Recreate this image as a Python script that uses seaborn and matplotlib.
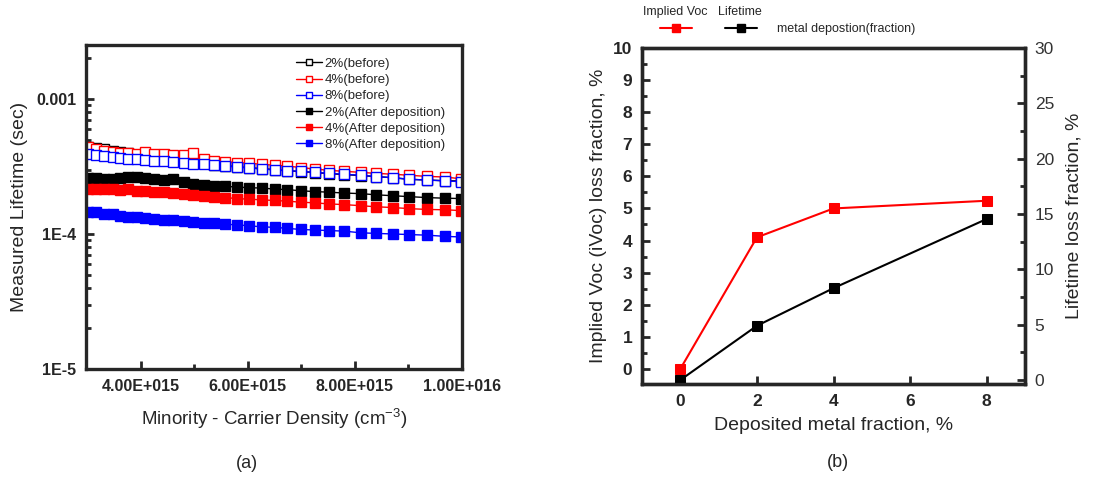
import numpy as np
import seaborn as sns
import matplotlib.pyplot as plt
from matplotlib.lines import Line2D
from matplotlib.ticker import FixedLocator, FixedFormatter, LogLocator, NullFormatter, MultipleLocator

#=============================== data
# panel (a): carrier density, cm^-3
density = np.array([3.02, 3.17, 3.32, 3.48, 3.62, 3.77, 3.93, 4.08, 4.25, 4.43, 4.61, 4.80,
                    4.98, 5.19, 5.37, 5.57, 5.79, 6.02, 6.26, 6.50, 6.74, 6.99, 7.25, 7.52,
                    7.80, 8.11, 8.40, 8.71, 9.02, 9.35, 9.69, 9.99]) * 1e15

# lifetimes in units of 1e-4 s
before_2 = [4.44, 4.34, 4.24, 4.14, 4.05, 3.96, 3.87, 3.78, 3.70, 3.61, 3.53, 3.45,
            3.40, 3.34, 3.26, 3.21, 3.15, 3.10, 3.05, 3.00, 2.94, 2.90, 2.85, 2.80,
            2.75, 2.71, 2.66, 2.61, 2.54, 2.51, 2.48, 2.47]
before_4 = [4.44, 4.26, 4.14, 4.07, 4.00, 3.96, 3.94, 4.03, 3.94, 3.89, 3.83, 3.87,
            3.96, 3.57, 3.47, 3.43, 3.38, 3.34, 3.28, 3.23, 3.19, 3.10, 3.03, 2.96,
            2.91, 2.86, 2.81, 2.77, 2.72, 2.67, 2.64, 2.56]
before_8 = [3.91, 3.85, 3.80, 3.74, 3.68, 3.61, 3.57, 3.53, 3.49, 3.45, 3.40, 3.36,
            3.32, 3.28, 3.23, 3.19, 3.14, 3.08, 3.03, 2.98, 2.94, 2.91, 2.86, 2.81,
            2.77, 2.72, 2.66, 2.61, 2.54, 2.51, 2.47, 2.44]
after_2 = [2.61, 2.58, 2.57, 2.56, 2.58, 2.63, 2.66, 2.58, 2.54, 2.53, 2.54, 2.43,
           2.35, 2.31, 2.28, 2.25, 2.23, 2.20, 2.19, 2.15, 2.13, 2.09, 2.06, 2.04,
           2.01, 1.99, 1.95, 1.92, 1.89, 1.86, 1.84, 1.83]
after_4 = [2.15, 2.17, 2.15, 2.14, 2.13, 2.14, 2.08, 2.09, 2.06, 2.04, 2.01, 1.97,
           1.93, 1.90, 1.88, 1.86, 1.83, 1.81, 1.79, 1.77, 1.75, 1.72, 1.70, 1.67,
           1.65, 1.62, 1.59, 1.57, 1.54, 1.52, 1.51, 1.49]
after_8 = [1.45, 1.45, 1.41, 1.41, 1.37, 1.34, 1.34, 1.31, 1.30, 1.28, 1.26, 1.25,
           1.23, 1.21, 1.20, 1.18, 1.17, 1.15, 1.13, 1.12, 1.10, 1.08, 1.07, 1.06,
           1.05, 1.02, 1.01, 1.00, 0.99, 0.98, 0.96, 0.95]

series_a = [("2%(before)", before_2, "black", True),
            ("4%(before)", before_4, "red", True),
            ("8%(before)", before_8, "blue", True),
            ("2%(After deposition)", after_2, "black", False),
            ("4%(After deposition)", after_4, "red", False),
            ("8%(After deposition)", after_8, "blue", False)]

# panel (b)
metal_fraction = [0, 2, 4, 8]
ivoc_loss = [0.0, 4.1, 5.0, 5.24]
lifetime_loss = [0.0, 4.9, 8.3, 14.55]

#=============================== figure
sns.set_style("ticks")
plt.rcParams['font.family'] = ['Liberation Sans', 'DejaVu Sans']
plt.rcParams['mathtext.fontset'] = 'custom'
plt.rcParams['mathtext.rm'] = 'Liberation Sans'

fig = plt.figure(figsize=(11.06, 4.78), dpi=100)
ax1 = fig.add_axes([0.0778, 0.228, 0.3399, 0.678])
ax2 = fig.add_axes([0.5805, 0.1967, 0.3463, 0.7029])

# ---- (a)
for lab, vals, col, hollow in series_a:
    sns.lineplot(x=density, y=np.array(vals) * 1e-4, ax=ax1, color=col, lw=1.0,
                 marker='s', ms=6.5, mec=col, mew=1.0,
                 mfc='white' if hollow else col, label=lab)
ax1.set_yscale('log')
ax1.set_xlim(2.98e15, 1.0e16)
ax1.set_ylim(1e-5, 10 ** -2.6)
ax1.yaxis.set_major_locator(FixedLocator([1e-5, 1e-4, 1e-3]))
ax1.yaxis.set_major_formatter(FixedFormatter(["1E-5", "1E-4", "0.001"]))
ax1.yaxis.set_minor_locator(LogLocator(base=10, subs=np.arange(2, 10)))
ax1.yaxis.set_minor_formatter(NullFormatter())
ax1.xaxis.set_major_locator(FixedLocator([4e15, 6e15, 8e15, 1e16]))
ax1.xaxis.set_major_formatter(FixedFormatter(["4.00E+015", "6.00E+015", "8.00E+015", "1.00E+016"]))
ax1.xaxis.set_minor_locator(FixedLocator([5e15, 7e15, 9e15]))
ax1.tick_params(which='both', direction='in', width=2, top=False, right=False)
ax1.tick_params(which='major', length=6, labelsize=11.5, pad=7)
ax1.tick_params(which='minor', length=3.5)
for t in ax1.get_xticklabels() + ax1.get_yticklabels():
    t.set_fontweight('bold')
for sp in ax1.spines.values():
    sp.set_linewidth(2.4)
    sp.set_visible(True)
ax1.set_xlabel("Minority - Carrier Density (cm$^{-3}$)", fontsize=13.5, labelpad=9)
ax1.set_ylabel("Measured Lifetime (sec)", fontsize=14, labelpad=6)
ax1.legend(loc='upper right', bbox_to_anchor=(0.975, 0.985), frameon=False, fontsize=9.5,
           markerscale=0.7, handlelength=2.0, handletextpad=0.2, labelspacing=0.3,
           borderaxespad=0.2)

# ---- (b)
sns.lineplot(x=metal_fraction, y=ivoc_loss, ax=ax2, color='red', lw=1.5,
             marker='s', ms=7, mec='red', legend=False)
ax3 = ax2.twinx()
sns.lineplot(x=metal_fraction, y=lifetime_loss, ax=ax3, color='black', lw=1.5,
             marker='s', ms=7, mec='black', legend=False)
ax2.set_xlim(-1, 9)
ax2.set_ylim(-0.47, 10)
ax3.set_ylim(-0.36, 30)
ax2.xaxis.set_major_locator(MultipleLocator(2))
ax2.yaxis.set_major_locator(MultipleLocator(1))
ax2.yaxis.set_minor_locator(MultipleLocator(0.5))
ax3.yaxis.set_major_locator(MultipleLocator(5))
ax3.yaxis.set_minor_locator(MultipleLocator(2.5))
ax2.tick_params(which='both', direction='in', width=2, top=False, right=False)
ax2.tick_params(which='major', length=6, labelsize=12.5, pad=7)
ax2.tick_params(which='minor', length=3.5)
ax3.tick_params(which='both', direction='in', width=2)
ax3.tick_params(which='major', length=6, labelsize=12.5, labelcolor='#333333', pad=7)
ax3.tick_params(which='minor', length=3.5)
for t in ax2.get_xticklabels() + ax2.get_yticklabels():
    t.set_fontweight('bold')
for a in (ax2, ax3):
    for sp in a.spines.values():
        sp.set_linewidth(2.4)
        sp.set_visible(True)
ax2.set_xlabel("Deposited metal fraction, %", fontsize=14, labelpad=6)
ax2.set_ylabel("Implied Voc (iVoc) loss fraction, %", fontsize=14, labelpad=4)
ax3.set_ylabel("Lifetime loss fraction, %", fontsize=14, labelpad=8)

# legend above panel (b)
handles = [Line2D([], [], color='red', lw=1.5, marker='s', ms=6),
           Line2D([], [], color='black', lw=1.5, marker='s', ms=6)]
ax2.legend(handles, ["", "metal depostion(fraction)"], ncol=2, frameon=False,
           loc='lower left', bbox_to_anchor=(0.03, 1.02), fontsize=9,
           handlelength=2.6, handletextpad=1.6, columnspacing=1.0, borderaxespad=0.1)
fig.text(0.581, 0.975, "Implied Voc", fontsize=9, va='center')
fig.text(0.649, 0.975, "Lifetime", fontsize=9, va='center')

fig.text(0.2233, 0.031, "(a)", fontsize=13, ha='center', va='center')
fig.text(0.7577, 0.033, "(b)", fontsize=13, ha='center', va='center')

fig.savefig("out.png", dpi=100)
